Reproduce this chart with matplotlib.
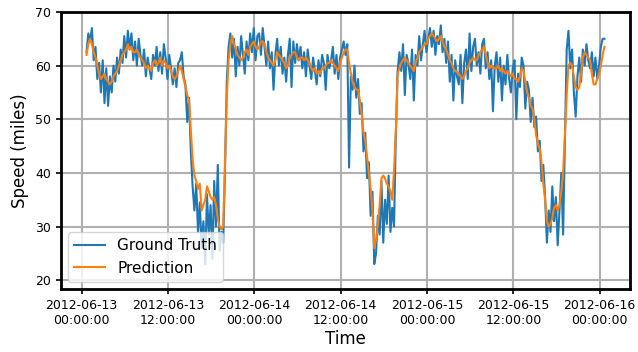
import numpy as np
import matplotlib
matplotlib.use("Agg")
import matplotlib.pyplot as plt
import matplotlib.dates as mdates
import pandas as pd

# 15-minute samples starting 2012-06-13 00:40
start_time = "2012-06-13 00:40"
step = "15min"

ground_truth = [
    62.5, 66.0, 64.5, 67.0,  61.0, 63.5, 57.5, 60.5,  55.0, 61.0, 53.0, 59.5,
    52.5, 58.0, 55.0, 60.0,  57.0, 61.5, 58.5, 63.0,  60.5, 65.5, 61.5, 66.5,
    63.0, 66.0, 61.0, 64.5,  60.0, 65.0, 62.0, 60.0,  63.0, 58.0, 61.5, 59.5,
    57.5, 62.0, 60.0, 63.5,  59.0, 62.5, 58.5, 64.0,  61.5, 57.5, 62.0, 59.5,
    56.5, 59.5, 56.0, 60.5,  61.0, 62.5, 58.0, 56.5,  49.5, 54.0, 44.0, 37.5,
    33.0, 38.0, 29.0, 34.5,  26.0, 31.0, 23.0, 36.0,  28.5, 34.0, 24.0, 38.5,
    30.0, 41.5, 25.5, 29.0,  27.0, 40.5, 57.0, 63.5,  66.0, 61.5, 65.0, 58.0,
    63.5, 60.0, 65.5, 62.0,  58.5, 64.5, 61.0, 66.0,  62.5, 67.0, 61.0, 65.5,
    66.0, 62.0, 67.0, 63.5,  60.0, 64.5, 59.5, 62.5,  55.5, 62.0, 65.0, 60.0,
    63.5, 58.5, 61.5, 57.0,  62.0, 65.0, 56.0, 64.5,  60.5, 64.0, 61.0, 63.5,
    59.5, 62.5, 58.0, 63.0,  60.0, 57.5, 61.5, 59.0,  56.5, 61.0, 58.0, 62.0,
    60.5, 55.5, 62.0, 59.5,  61.0, 63.5, 58.5, 62.0,  57.5, 61.5, 63.0, 64.5,
    62.0, 64.0, 41.0, 58.0,  55.5, 60.0, 54.0, 57.5,  51.0, 53.0, 44.0, 47.5,
    39.0, 42.0, 32.0, 36.5,  23.0, 25.0, 32.0, 28.5,  38.5, 27.0, 35.0, 30.5,
    39.5, 29.0, 33.5, 30.0,  47.0, 59.0, 62.5, 59.0,  64.0, 54.5, 62.0, 60.5,
    57.5, 63.0, 53.5, 62.0,  60.0, 65.5, 61.0, 64.0,  66.5, 62.5, 65.0, 67.0,
    63.5, 66.5, 62.0, 65.5,  64.0, 67.5, 62.5, 65.0,  60.5, 64.5, 57.0, 62.0,
    53.5, 61.0, 58.0, 56.5,  62.0, 53.0, 60.5, 63.0,  57.5, 66.0, 59.0, 63.5,
    65.0, 60.0, 62.5, 58.5,  64.0, 65.0, 59.5, 62.5,  57.5, 61.0, 51.5, 60.0,
    62.5, 57.0, 61.5, 53.5,  60.0, 56.5, 62.0, 57.5,  55.0, 59.5, 61.0, 50.0,
    58.5, 56.0, 61.5, 60.0,  52.0, 57.0, 55.5, 49.5,  54.0, 48.5, 50.5, 44.0,
    46.0, 38.5, 41.5, 35.5,  27.0, 33.0, 29.0, 37.5,  31.0, 35.5, 26.5, 33.0,
    40.0, 28.5, 46.0, 63.0,  66.5, 59.5, 63.0, 55.0,  50.5, 58.0, 61.5, 57.0,
    63.0, 60.0, 64.0, 61.0,  59.5, 62.5, 58.0, 61.5,  57.5, 60.0, 63.5, 65.0,
    65.0,
]

prediction = [
    62.0, 64.0, 65.0, 64.0,  62.5, 61.5, 60.0, 58.5,  57.5, 58.0, 58.5, 57.5,
    57.0, 56.5, 57.0, 58.0,  58.5, 59.0, 60.0, 61.0,  62.0, 62.5, 63.0, 64.0,
    63.0, 63.5, 62.5, 62.5,  63.0, 62.0, 61.5, 61.0,  60.5, 59.5, 60.0, 59.5,
    59.0, 60.5, 61.0, 60.0,  60.5, 61.5, 60.0, 61.0,  60.5, 59.5, 60.0, 59.0,
    58.0, 57.5, 58.0, 59.0,  60.0, 59.0, 57.5, 56.0,  54.5, 53.5, 48.0, 42.5,
    39.5, 38.5, 37.0, 38.0,  33.0, 34.0, 35.0, 37.5,  36.5, 35.5, 35.0, 35.5,
    34.0, 31.5, 30.0, 29.5,  30.0, 42.0, 54.0, 61.0,  64.0, 65.5, 64.0, 63.0,
    62.0, 61.5, 61.0, 61.5,  62.5, 63.0, 62.0, 63.5,  64.0, 64.5, 63.5, 63.0,
    63.5, 64.5, 64.5, 64.0,  62.5, 61.5, 61.0, 60.5,  60.0, 61.0, 62.5, 62.0,
    61.5, 61.0, 60.5, 59.5,  60.0, 61.5, 62.0, 62.5,  62.5, 61.5, 61.0, 61.5,
    61.5, 61.0, 61.5, 61.0,  60.5, 59.5, 59.0, 59.5,  58.5, 59.0, 58.5, 59.5,
    59.5, 60.0, 60.5, 60.5,  61.0, 60.5, 60.0, 59.5,  59.0, 60.5, 61.5, 62.5,
    63.0, 63.0, 60.5, 58.5,  57.0, 56.0, 55.5, 55.5,  53.5, 51.0, 47.5, 46.0,
    43.0, 40.0, 37.0, 33.0,  26.0, 27.5, 30.5, 34.0,  39.0, 39.5, 39.0, 38.0,
    37.5, 36.5, 35.0, 40.5,  48.0, 58.5, 59.5, 60.5,  61.0, 61.5, 61.0, 60.5,
    60.0, 59.5, 59.0, 60.5,  61.5, 62.5, 63.0, 63.5,  64.0, 64.0, 65.0, 65.5,
    66.0, 65.5, 65.0, 64.5,  65.0, 65.5, 64.5, 63.5,  63.0, 62.0, 61.0, 60.5,
    59.5, 59.0, 58.8, 58.5,  58.0, 57.5, 58.0, 59.0,  59.5, 60.5, 61.0, 61.5,
    61.0, 61.0, 62.0, 62.5,  63.0, 63.5, 62.0, 60.5,  59.5, 60.0, 59.5, 59.5,
    59.5, 60.0, 59.0, 59.5,  59.0, 58.5, 59.0, 58.5,  58.0, 58.5, 57.5, 57.5,
    57.0, 58.0, 59.5, 59.0,  57.0, 55.0, 54.0, 52.5,  52.0, 50.0, 47.0, 45.5,
    44.5, 42.0, 38.0, 35.0,  31.0, 30.0, 30.5, 31.5,  33.5, 34.0, 33.0, 34.0,
    36.5, 40.0, 47.0, 54.5,  60.0, 60.5, 60.0, 58.0,  56.0, 55.5, 56.0, 58.5,
    61.5, 62.5, 62.0, 61.5,  61.0, 58.5, 56.5, 56.5,  57.5, 58.5, 60.0, 62.0,
    63.5,
]

times = pd.date_range(start_time, periods=len(ground_truth), freq=step)

fig = plt.figure(figsize=(6.38, 3.52), dpi=100)
ax = fig.add_axes([0.095, 0.178, 0.893, 0.788])

ax.plot(times, ground_truth, color="#1f77b4", lw=1.5, label="Ground Truth")
ax.plot(times, prediction, color="#ff7f0e", lw=1.5, label="Prediction")

ax.set_ylim(18.3, 70)
ax.set_yticks([20, 30, 40, 50, 60, 70])
ax.xaxis.set_major_locator(mdates.HourLocator(byhour=[0, 12]))
ax.xaxis.set_major_formatter(mdates.DateFormatter("%Y-%m-%d\n%H:%M:%S"))
ax.tick_params(labelsize=9, width=1.2, length=3.5)
ax.grid(True, color="#b0b0b0", lw=1.5)
ax.set_axisbelow(True)
for s in ax.spines.values():
    s.set_linewidth(2.0)

ax.set_xlabel("Time", fontsize=12, labelpad=2)
ax.set_ylabel("Speed (miles)", fontsize=12)
leg = ax.legend(loc="lower left", fontsize=11)

fig.savefig("out.png", dpi=100)
